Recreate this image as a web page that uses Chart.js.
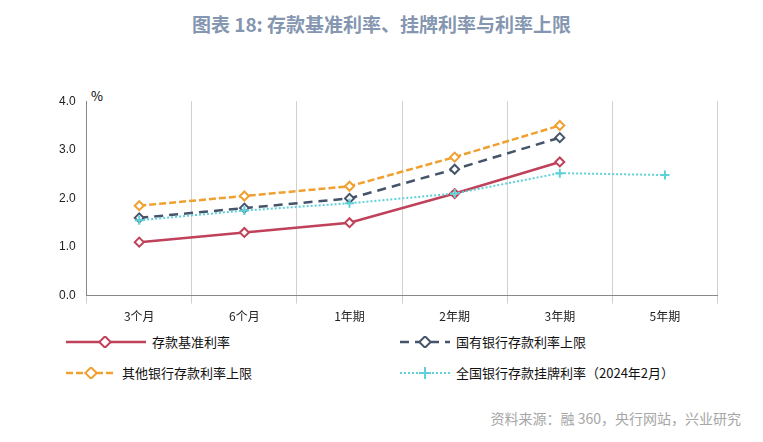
<!DOCTYPE html>
<html><head><meta charset="utf-8">
<script src="https://cdn.jsdelivr.net/npm/chart.js@4"></script>
<style>
body{margin:0;width:763px;height:442px;background:#fff;font-family:"Noto Sans CJK SC","Noto Sans",sans-serif;position:relative;overflow:hidden}
#title{position:absolute;top:10px;left:0;width:763px;text-align:center;font-size:19px;font-weight:bold;color:#8496b0}
#wrap{position:absolute;left:56px;top:91px;width:668px;height:239px}
.lg{position:absolute;font-size:13px;color:#111;display:flex;align-items:center;font-family:"Noto Sans CJK SC",serif}
.lg svg{margin-right:6px}
#src{position:absolute;right:22px;top:408px;font-size:14px;color:#a6a6a6}
#pct{position:absolute;left:91px;top:86px;font-size:13px}
</style></head><body>
<div id="title">图表 18: 存款基准利率、挂牌利率与利率上限</div>
<div id="pct">%</div>
<div id="wrap"><canvas id="c"></canvas></div>
<div class="lg" style="left:66px;top:332px"><svg width="80" height="12"><line x1="0" y1="6" x2="80" y2="6" stroke="#c0415a" stroke-width="2.5"/><rect x="35" y="2" width="8" height="8" transform="rotate(45 39 6)" fill="#fff" stroke="#c0415a" stroke-width="2"/></svg>存款基准利率</div>
<div class="lg" style="left:400px;top:332px"><svg width="50" height="12"><line x1="0" y1="6" x2="50" y2="6" stroke="#44546a" stroke-width="2.5" stroke-dasharray="9,6"/><rect x="21" y="2" width="8" height="8" transform="rotate(45 25 6)" fill="#fff" stroke="#44546a" stroke-width="2"/></svg>国有银行存款利率上限</div>
<div class="lg" style="left:66px;top:363px"><svg width="50" height="12"><line x1="0" y1="6" x2="50" y2="6" stroke="#f0a030" stroke-width="2.5" stroke-dasharray="7,3"/><rect x="21" y="2" width="8" height="8" transform="rotate(45 25 6)" fill="#fff" stroke="#f0a030" stroke-width="2"/></svg>其他银行存款利率上限</div>
<div class="lg" style="left:400px;top:363px"><svg width="50" height="12"><line x1="0" y1="6" x2="50" y2="6" stroke="#5fd0d8" stroke-width="2" stroke-dasharray="2,2"/><line x1="25" y1="0" x2="25" y2="12" stroke="#5fd0d8" stroke-width="2"/><line x1="19" y1="6" x2="31" y2="6" stroke="#5fd0d8" stroke-width="2"/></svg>全国银行存款挂牌利率（2024年2月）</div>
<div id="src">资料来源：融 360，央行网站，兴业研究</div>
<script>
const categories=["3个月","6个月","1年期","2年期","3年期","5年期"];
const baseRate=[1.1,1.3,1.5,2.1,2.75,null];
const stateCap=[1.6,1.8,2.0,2.6,3.25,null];
const otherCap=[1.85,2.05,2.25,2.85,3.5,null];
const listedRate=[1.55,1.75,1.9,2.1,2.52,2.48];
const yTicks=[0,1,2,3,4];
const ds=(d,c,dash,style,w)=>({data:d,borderColor:c,borderDash:dash,borderWidth:w,pointStyle:style,pointRadius:4.5,pointBorderWidth:2,pointBackgroundColor:'#fff',pointBorderColor:c,tension:0,spanGaps:false});
new Chart(document.getElementById('c'),{type:'line',
data:{labels:categories,datasets:[
ds(listedRate,'#5fd0d8',[2,2],'cross',2),
ds(baseRate,'#c0415a',[],'rectRot',2.5),
ds(stateCap,'#44546a',[9,6],'rectRot',2.5),
ds(otherCap,'#f0a030',[7,3],'rectRot',2.5)]},
options:{animation:false,responsive:true,maintainAspectRatio:false,layout:{padding:0},
plugins:{legend:{display:false},tooltip:{enabled:false}},
scales:{x:{offset:true,grid:{offset:true,color:'#d0d0d0',drawTicks:true},border:{color:'#888'},ticks:{color:'#222',font:{size:12,family:'Noto Sans CJK SC'},padding:6}},
y:{min:0,max:4,afterBuildTicks:a=>{a.ticks=yTicks.map(v=>({value:v}))},grid:{display:false},border:{color:'#888'},ticks:{color:'#222',font:{size:12},callback:v=>v.toFixed(1)}}}}});
</script></body></html>
